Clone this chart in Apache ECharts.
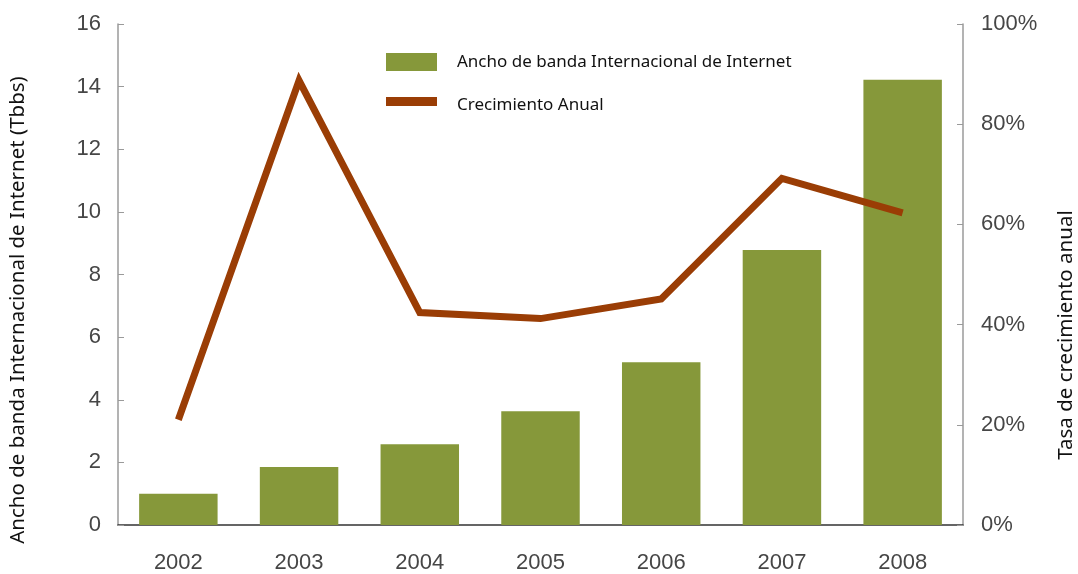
<!DOCTYPE html>
<html>
<head>
<meta charset="utf-8">
<script src="https://cdn.jsdelivr.net/npm/echarts@6/dist/echarts.min.js"></script>
<style>
  html, body { margin: 0; padding: 0; background: #fff; }
  #chart { width: 1078px; height: 574px; }
</style>
</head>
<body>
<div id="chart"></div>
<script>
// International internet bandwidth (Tbps) and its annual growth rate
const years = ['2002', '2003', '2004', '2005', '2006', '2007', '2008'];
const bandwidth = [1.0, 1.85, 2.58, 3.63, 5.2, 8.78, 14.22];
const growth = [21, 88.7, 42.4, 41.2, 45.1, 69.2, 62.3];
const leftTicks = [0, 2, 4, 6, 8, 10, 12, 14, 16];
const rightTicks = [0, 20, 40, 60, 80, 100];

const barName = 'Ancho de banda Internacional de Internet';
const lineName = 'Crecimiento Anual';
const leftTitle = 'Ancho de banda Internacional de Internet (Tbbs)';
const rightTitle = 'Tasa de crecimiento anual';

const barColor = '#86983a';
const lineColor = '#9a3d05';
const tickFont = 'Liberation Sans, Arial, Helvetica, sans-serif';
const textFont = 'Noto Sans, Open Sans, sans-serif';
const tickLabel = { color: '#464646', fontSize: 22, fontFamily: tickFont };

const chart = echarts.init(document.getElementById('chart'));
chart.setOption({
  animation: false,
  grid: { left: 118, right: 115, top: 24, bottom: 49 },
  xAxis: {
    type: 'category',
    data: years,
    axisLine: { lineStyle: { color: '#333', width: 1.5 } },
    axisTick: { show: false },
    axisLabel: Object.assign({ margin: 27 }, tickLabel)
  },
  yAxis: [
    {
      type: 'value', min: leftTicks[0], max: leftTicks[leftTicks.length - 1], interval: 2,
      axisLine: { show: true, lineStyle: { color: '#9a9a9a', width: 1.5 } },
      axisTick: { show: true, inside: true, length: 6, lineStyle: { color: '#9a9a9a' } },
      splitLine: { show: false },
      axisLabel: Object.assign({ margin: 17 }, tickLabel)
    },
    {
      type: 'value', min: rightTicks[0], max: rightTicks[rightTicks.length - 1], interval: 20,
      axisLine: { show: true, lineStyle: { color: '#9a9a9a', width: 1.5 } },
      axisTick: { show: true, inside: true, length: 6, lineStyle: { color: '#9a9a9a' } },
      splitLine: { show: false },
      axisLabel: Object.assign({ margin: 18, formatter: '{value}%' }, tickLabel)
    }
  ],
  series: [
    {
      name: barName, type: 'bar', data: bandwidth, yAxisIndex: 0,
      barWidth: '65%', itemStyle: { color: barColor }
    },
    {
      name: lineName, type: 'line', data: growth, yAxisIndex: 1,
      symbol: 'none', z: 5,
      lineStyle: { color: lineColor, width: 7, join: 'miter' }
    }
  ],
  graphic: [
    { type: 'rect', left: 386, top: 53, shape: { width: 51, height: 18 }, style: { fill: barColor } },
    { type: 'text', x: 457, y: 62, style: { text: barName, fill: '#111', font: '17px ' + textFont, verticalAlign: 'middle' } },
    { type: 'rect', left: 386, top: 97, shape: { width: 51, height: 9 }, style: { fill: lineColor } },
    { type: 'text', x: 457, y: 105, style: { text: lineName, fill: '#111', font: '17px ' + textFont, verticalAlign: 'middle' } },
    {
      type: 'text', x: 18, y: 310, rotation: Math.PI / 2,
      style: { text: leftTitle, fill: '#111', font: '20.5px ' + textFont, align: 'center', verticalAlign: 'middle' }
    },
    {
      type: 'text', x: 1066, y: 335, rotation: Math.PI / 2,
      style: { text: rightTitle, fill: '#111', font: '20.5px ' + textFont, align: 'center', verticalAlign: 'middle' }
    }
  ]
});
</script>
</body>
</html>
